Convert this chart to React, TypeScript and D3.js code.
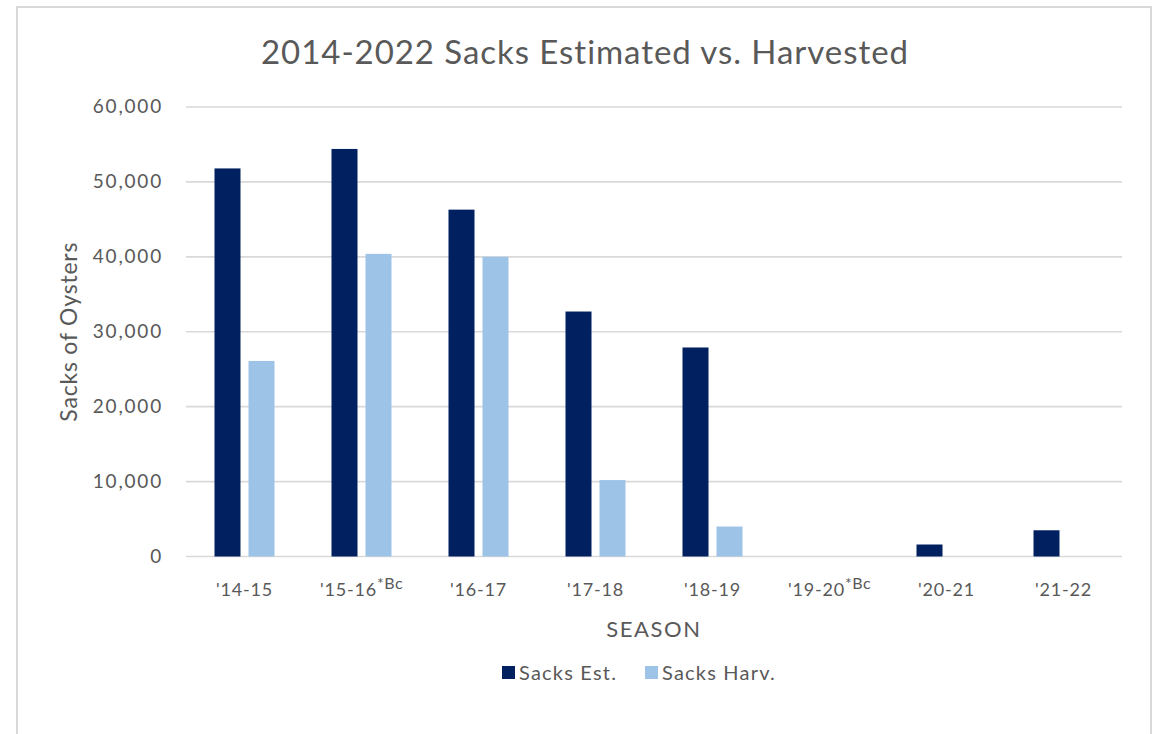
import React from "react";
import * as d3 from "d3";

const categories = ["'14-15", "'15-16", "'16-17", "'17-18", "'18-19", "'19-20", "'20-21", "'21-22"];
const superscripts = ["", "*Bc", "", "", "", "*Bc", "", ""];
const sacksEst = [51800, 54400, 46300, 32700, 27900, 0, 1600, 3500];
const sacksHarv = [26100, 40400, 40000, 10200, 4000, 0, 0, 0];
const yTicks = [0, 10000, 20000, 30000, 40000, 50000, 60000];
const seriesNames = ["Sacks Est.", "Sacks Harv."];
const seriesColors = ["#002060", "#9DC3E6"];

const W = 1154;
const H = 734;
const FONT = "Lato, 'Open Sans', sans-serif";
const TEXT = "#595959";

export default function App() {
  const plotLeft = 186;
  const plotRight = 1122;
  const plotTop = 107;
  const plotBottom = 556.5;

  const x0 = d3.scaleBand<string>().domain(categories).range([plotLeft, plotRight]).padding(0);
  const bw = x0.bandwidth();
  const x1 = d3
    .scaleBand<string>()
    .domain(seriesNames)
    .range([bw / 2 - 30, bw / 2 + 30])
    .paddingInner(8 / 34)
    .paddingOuter(0);
  const y = d3.scaleLinear().domain([0, 60000]).range([plotBottom, plotTop]);
  const fmt = d3.format(",");
  const series = [sacksEst, sacksHarv];

  return (
    <svg
      width={W}
      height={H}
      style={{ position: "absolute", left: 0, top: 0, background: "#fff" }}
      fontFamily={FONT}
    >
      <rect x={0} y={0} width={W} height={H} fill="#fff" />
      <rect x={17} y={7} width={1134} height={760} fill="#fff" stroke="#d9d9d9" strokeWidth={2} />

      <text x={585} y={64} textAnchor="middle" fontSize={33} fill={TEXT} letterSpacing={0.95}>
        2014-2022 Sacks Estimated vs. Harvested
      </text>

      {yTicks.map((t) => (
        <g key={t}>
          <line x1={plotLeft} x2={plotRight} y1={y(t)} y2={y(t)} stroke="#d9d9d9" strokeWidth={1.6} />
          <text x={163} y={y(t) + 6} textAnchor="end" fontSize={19} fill={TEXT} letterSpacing={1.8}>
            {fmt(t)}
          </text>
        </g>
      ))}

      <text
        transform={`translate(77,${(plotTop + plotBottom) / 2}) rotate(-90)`}
        textAnchor="middle"
        fontSize={23}
        fill={TEXT}
        letterSpacing={0.8}
      >
        Sacks of Oysters
      </text>

      {categories.map((c, i) => (
        <g key={c}>
          {series.map((vals, s) => {
            const v = vals[i];
            if (!v) return null;
            return (
              <rect
                key={s}
                x={(x0(c) as number) + (x1(seriesNames[s]) as number)}
                y={y(v)}
                width={x1.bandwidth()}
                height={plotBottom - y(v)}
                fill={seriesColors[s]}
              />
            );
          })}
          <text
            x={(x0(c) as number) + bw / 2}
            y={596}
            textAnchor="middle"
            fontSize={18}
            fill={TEXT}
            letterSpacing={0.8}
          >
            {c}
            {superscripts[i] ? (
              <tspan fontSize={16} dy={-7} letterSpacing={0.5}>
                {superscripts[i]}
              </tspan>
            ) : null}
          </text>
        </g>
      ))}

      <text x={(plotLeft + plotRight) / 2} y={637} textAnchor="middle" fontSize={22} fill={TEXT} letterSpacing={1.6}>
        SEASON
      </text>

      {seriesNames.map((n, s) => {
        const lx = s === 0 ? 502 : 645;
        return (
          <g key={n}>
            <rect x={lx} y={666} width={13} height={13} fill={seriesColors[s]} />
            <text x={lx + 17} y={680} fontSize={20} fill={TEXT} letterSpacing={1.2}>
              {n}
            </text>
          </g>
        );
      })}
    </svg>
  );
}
